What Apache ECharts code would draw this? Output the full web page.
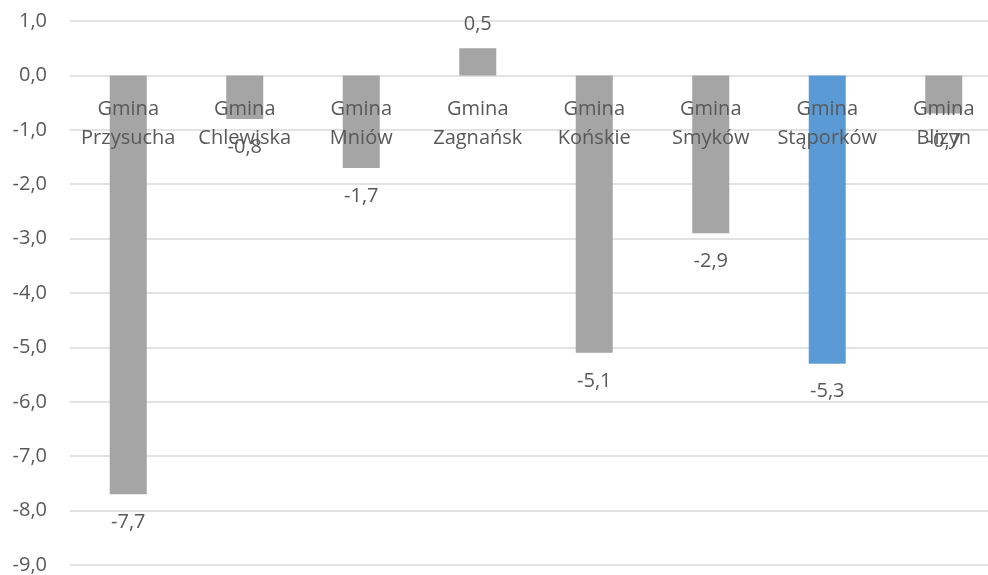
<!DOCTYPE html>
<html><head><meta charset="utf-8">
<script src="https://cdn.jsdelivr.net/npm/echarts@6/dist/echarts.min.js"></script>
<style>html,body{margin:0;padding:0;background:#fff}#c{width:988px;height:575px}</style>
</head><body><div id="c"></div>
<script>
const categories = ["Gmina\nPrzysucha","Gmina\nChlewiska","Gmina\nMniów","Gmina\nZagnańsk","Gmina\nKońskie","Gmina\nSmyków","Gmina\nStąporków","Gmina\nBlizyn"];
const values = [-7.7, -0.8, -1.7, 0.5, -5.1, -2.9, -5.3, -0.7];
const highlighted = "Gmina\nStąporków";
const yTicks = {min: -9, max: 1, step: 1};

const fmt = v => v.toFixed(1).replace('.', ',').replace('-0,0','0,0');
const FONT = 'Open Sans';
const GRID_TOP = 21, GRID_H = 544;
const zeroOffset = GRID_H * (yTicks.max - 0) / (yTicks.max - yTicks.min);
const chart = echarts.init(document.getElementById('c'), null, {renderer:'canvas'});
chart.setOption({
  animation:false,
  backgroundColor:'#fff',
  grid:{left:70, right:-14, top:GRID_TOP, height:GRID_H, outerBoundsMode:'none', containLabel:false},
  xAxis:{type:'category', data:categories, z:10, position:'top', offset:-zeroOffset,
    axisLine:{show:false},
    axisTick:{show:false},
    axisLabel:{interval:0, inside:true, color:'#595959', fontFamily:FONT, fontSize:20, lineHeight:29, margin:19}
  },
  yAxis:{type:'value', min:yTicks.min, max:yTicks.max, interval:yTicks.step,
    axisLine:{show:false}, axisTick:{show:false},
    splitLine:{lineStyle:{color:'#d9d9d9', width:1.5}},
    axisLabel:{formatter:fmt, color:'#595959', fontFamily:FONT, fontSize:20, margin:23}
  },
  series:[{type:'bar', barWidth:37, z:2,
    data: values.map((v,i)=>({value:v,
      itemStyle:{color: categories[i]===highlighted ? '#5b9bd5' : '#a5a5a5'},
      label:{position: v<0 ? 'bottom' : 'top', distance: v<0 ? 18 : 14}})),
    label:{show:true, formatter:p=>fmt(p.value), color:'#595959', fontFamily:FONT, fontSize:20}
  }]
});
</script></body></html>
